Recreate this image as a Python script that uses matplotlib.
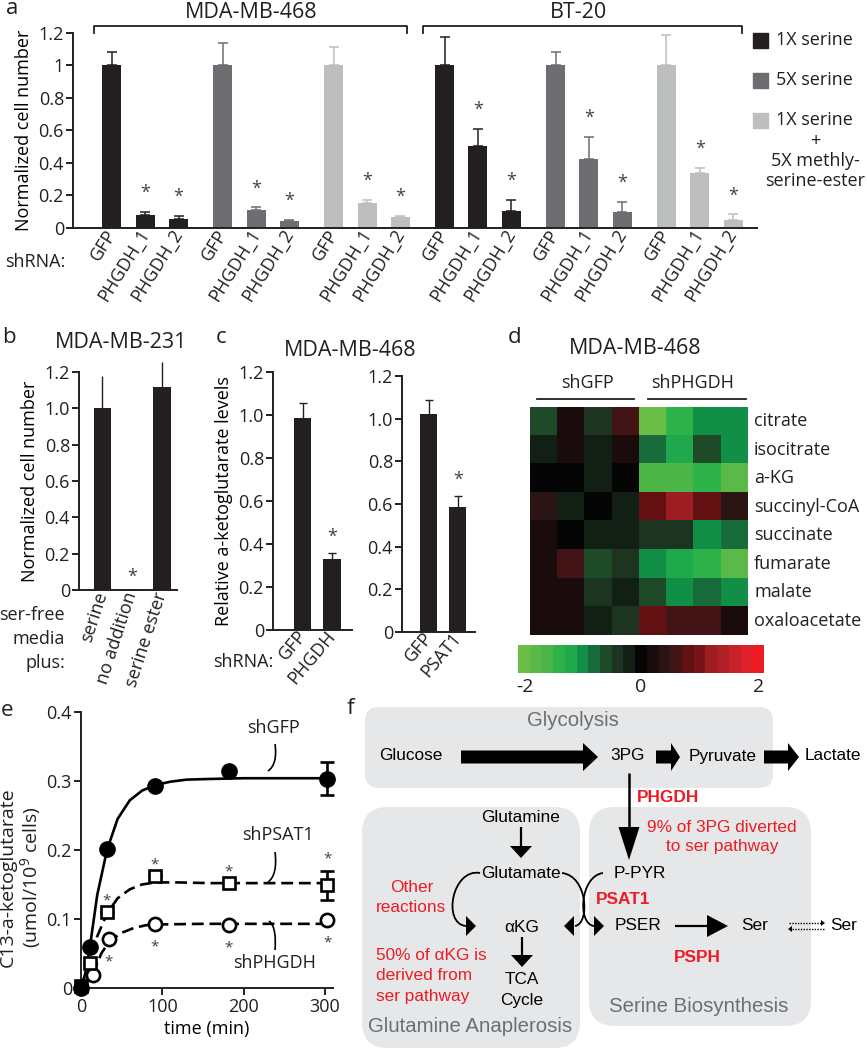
import numpy as np
import matplotlib
matplotlib.use("Agg")
import matplotlib.pyplot as plt
from matplotlib.patches import FancyBboxPatch, Polygon, PathPatch, Rectangle
from matplotlib.path import Path
from matplotlib.colors import ListedColormap, Normalize
from matplotlib.transforms import offset_copy

plt.rcParams['font.family'] = ['Open Sans', 'DejaVu Sans']
plt.rcParams['mathtext.fontset'] = 'custom'
plt.rcParams['mathtext.rm'] = 'Open Sans'
plt.rcParams['mathtext.it'] = 'Open Sans:italic'

# ---------------- data ----------------
# panel a
a_cell_lines = ['MDA-MB-468', 'BT-20']
a_conditions = ['1X serine', '5X serine', '1X serine\n+\n5X methly-\nserine-ester']
a_shrna = ['GFP', 'PHGDH_1', 'PHGDH_2']
a_mda_1x = [1.0, 0.080, 0.058]
a_mda_1x_err = [0.085, 0.017, 0.017]
a_mda_5x = [1.0, 0.112, 0.044]
a_mda_5x_err = [0.137, 0.015, 0.007]
a_mda_est = [1.0, 0.155, 0.066]
a_mda_est_err = [0.116, 0.017, 0.009]
a_bt_1x = [1.0, 0.506, 0.107]
a_bt_1x_err = [0.177, 0.104, 0.065]
a_bt_5x = [1.0, 0.427, 0.100]
a_bt_5x_err = [0.085, 0.135, 0.062]
a_bt_est = [1.0, 0.336, 0.050]
a_bt_est_err = [0.190, 0.035, 0.034]
a_sig = [False, True, True]

# panel b
b_labels = ['serine', 'no addition', 'serine ester']
b_vals = [1.0, -0.008, 1.115]
b_err = [0.178, 0.0, 0.141]
b_sig = [False, True, False]

# panel c
c1_labels = ['GFP', 'PHGDH']
c1_vals = [0.988, 0.332]
c1_err = [0.066, 0.027]
c2_labels = ['GFP', 'PSAT1']
c2_vals = [1.020, 0.586]
c2_err = [0.066, 0.050]
c_sig = [False, True]

# panel d
d_metabolites = ['citrate', 'isocitrate', 'a-KG', 'succinyl-CoA', 'succinate',
                 'fumarate', 'malate', 'oxaloacetate']
d_groups = ['shGFP', 'shPHGDH']
d_citrate = [-0.57, 0.12, -0.40, 0.60, -1.90, -1.35, -0.90, -0.90]
d_isocitrate = [-0.20, 0.20, -0.25, 0.25, -0.75, -1.15, -0.60, -0.90]
d_akg = [0.08, 0.08, -0.20, 0.00, -1.50, -1.50, -1.35, -1.75]
d_succoa = [0.35, -0.25, 0.05, -0.12, 0.75, 1.15, 0.70, 0.38]
d_succinate = [0.25, 0.05, -0.12, -0.12, -0.30, -0.42, -0.90, -0.76]
d_fumarate = [0.22, 0.50, -0.55, -0.40, -0.95, -1.15, -1.33, -1.70]
d_malate = [0.12, 0.12, -0.30, -0.10, -0.60, -0.90, -0.76, -1.00]
d_oaa = [0.12, 0.22, -0.12, -0.30, 0.75, 0.60, 0.50, 0.20]

# panel e
e_t_gfp = [0, 11, 32, 91, 182, 303]
e_gfp = [0.000, 0.060, 0.201, 0.293, 0.314, 0.303]
e_gfp_err = [0, 0, 0, 0, 0, 0.024]
e_t_psat = [0, 11, 32, 91, 182, 303]
e_psat = [0.003, 0.036, 0.110, 0.162, 0.152, 0.149]
e_psat_err = [0, 0, 0, 0, 0, 0.021]
e_psat_sig = [False, False, True, True, True, True]
e_t_phgdh = [0, 15, 34, 91, 182, 303]
e_phgdh = [0.000, 0.019, 0.071, 0.093, 0.092, 0.099]
e_phgdh_sig = [False, False, True, True, True, True]
# fitted curves
e_fit_t_gfp = [0, 5, 11, 20, 32, 45, 60, 75, 91, 110, 130, 160, 200, 250, 303]
e_fit_gfp = [0, 0.020, 0.060, 0.135, 0.200, 0.245, 0.272, 0.286, 0.294, 0.299, 0.302, 0.303, 0.304, 0.304, 0.304]
e_fit_t_psat = [0, 11, 20, 32, 45, 60, 75, 91, 120, 160, 303]
e_fit_psat = [0, 0.040, 0.075, 0.108, 0.130, 0.143, 0.150, 0.153, 0.153, 0.152, 0.152]
e_fit_t_phgdh = [0, 15, 25, 35, 50, 65, 80, 91, 150, 303]
e_fit_phgdh = [0, 0.022, 0.050, 0.068, 0.080, 0.087, 0.091, 0.092, 0.093, 0.093]

# ---------------- figure ----------------
W, H = 867, 1050
fig = plt.figure(figsize=(W / 100, H / 100), dpi=100)


def ax_px(x0, y0, x1, y1):
    return fig.add_axes([x0 / W, 1 - y1 / H, (x1 - x0) / W, (y1 - y0) / H])


ov = fig.add_axes([0, 0, 1, 1], zorder=10)
ov.set_xlim(0, W)
ov.set_ylim(H, 0)
ov.set_axis_off()

FS = 13
TFS = 15.5
BLACK = '#231f20'
bar_colors = ['#231f20', '#6d6e71', '#bcbec0']


def style(ax, xticks=False):
    for s in ['top', 'right']:
        ax.spines[s].set_visible(False)
    for s in ['left', 'bottom']:
        ax.spines[s].set_linewidth(1.4)
        ax.spines[s].set_color(BLACK)
    ax.tick_params(axis='y', direction='out', length=5, width=1.4, labelsize=FS, pad=1.5, colors=BLACK)
    ax.tick_params(axis='x', direction='out', length=5 if xticks else 0, width=1.4,
                   labelsize=FS, pad=2, colors=BLACK)


def star(ax, x, y, fs=13):
    tr = offset_copy(ax.transData, fig=fig, y=-0.62 * fs, units='points')
    ax.text(x, y, '*', transform=tr, ha='center', va='baseline', fontsize=fs,
            color='#414042', clip_on=False)


def panel_label(x, y, s):
    ov.text(x, y, s, fontsize=16, ha='left', va='baseline', color=BLACK)


# ---------------- panel a ----------------
ax = ax_px(73, 33, 757, 228)
style(ax)
series = [(a_mda_1x, a_mda_1x_err, 0), (a_mda_5x, a_mda_5x_err, 1), (a_mda_est, a_mda_est_err, 2),
          (a_bt_1x, a_bt_1x_err, 0), (a_bt_5x, a_bt_5x_err, 1), (a_bt_est, a_bt_est_err, 2)]
all_x, all_lab = [], []
for g, (vals, errs, ci) in enumerate(series):
    xs = g * 3.33 + np.arange(3)
    ax.bar(xs, vals, width=0.57, color=bar_colors[ci], zorder=2)
    ax.errorbar(xs, vals, yerr=[np.zeros(3), errs], fmt='none', ecolor=bar_colors[ci],
                elinewidth=1.1, capsize=3.5, capthick=1.1, clip_on=False, zorder=1)
    for x, v, e, s in zip(xs, vals, errs, a_sig):
        if s:
            star(ax, x, v + e + 0.155)
    all_x += list(xs)
    all_lab += a_shrna
ax.set_xlim(-1.17, 5 * 3.33 + 2 + 0.72)
ax.set_ylim(0, 1.2)
ax.set_yticks([0, 0.2, 0.4, 0.6, 0.8, 1.0, 1.2])
ax.set_yticklabels(['0', '0.2', '0.4', '0.6', '0.8', '1', '1.2'])
ax.set_xticks(all_x)
ax.set_xticklabels(all_lab, rotation=58, ha='right', va='center', rotation_mode='anchor')
ax.set_ylabel('Normalized cell number', fontsize=FS, labelpad=4)
ov.text(5, 262, 'shRNA:', fontsize=FS, ha='left', va='center', color=BLACK)
panel_label(6, 14, 'a')
# brackets and cell-line titles
ov.plot([94, 94, 407, 407], [33, 26, 26, 33], color=BLACK, lw=1.3)
ov.plot([423, 423, 742, 742], [33, 26, 26, 33], color=BLACK, lw=1.3)
ov.text(251, 13, a_cell_lines[0], fontsize=TFS, ha='center', va='center', color=BLACK)
ov.text(578, 13, a_cell_lines[1], fontsize=TFS, ha='center', va='center', color=BLACK)
# legend
for i, (lab, col) in enumerate(zip(a_conditions, bar_colors)):
    yc = 40 + 40 * i
    ov.add_patch(Rectangle((753, yc - 7.5), 15, 15, color=col))
    lines = lab.split('\n')
    ov.text(776, yc, lines[0], fontsize=FS, ha='left', va='center', color=BLACK)
    for k, extra in enumerate(lines[1:]):
        ov.text(815, yc + 21 + 20 * k, extra, fontsize=FS, ha='center', va='center', color=BLACK)

# ---------------- panel b ----------------
ax = ax_px(79, 372, 177, 590)
style(ax)
xb = np.arange(3)
ax.bar(xb, b_vals, width=0.57, color=BLACK, zorder=2, clip_on=False)
ax.errorbar(xb, b_vals, yerr=[np.zeros(3), b_err], fmt='none', ecolor=BLACK,
            elinewidth=1.0, capsize=0, clip_on=False)
for x, v, e, s in zip(xb, b_vals, b_err, b_sig):
    if s:
        star(ax, x, max(v, 0) + 0.106)
ax.set_xlim(-0.77, 2.5)
ax.set_ylim(0, 1.2)
ax.set_yticks([0, 0.2, 0.4, 0.6, 0.8, 1.0, 1.2])
ax.set_yticklabels(['0', '0.2', '0.4', '0.6', '0.8', '1.0', '1.2'])
ax.set_xticks(xb)
ax.set_xticklabels(b_labels, rotation=72, ha='right', va='center', rotation_mode='anchor')
ax.set_ylabel('Normalized cell number', fontsize=FS, labelpad=4)
ov.text(121, 343, 'MDA-MB-231', fontsize=TFS, ha='center', va='center', color=BLACK)
for k, s in enumerate(['ser-free', 'media', 'plus:']):
    ov.text(65, 615 + 24 * k, s, fontsize=FS, ha='right', va='center', color=BLACK)
panel_label(2, 343, 'b')

# ---------------- panel c ----------------
for (x0, y0, x1, y1), labs, vals, errs, xl in [
        ((273, 372, 352, 630), c1_labels, c1_vals, c1_err, (-1.03, 1.69)),
        ((402, 376, 475, 632), c2_labels, c2_vals, c2_err, (-0.93, 1.59))]:
    ax = ax_px(x0, y0, x1, y1)
    style(ax)
    xc = np.arange(2)
    ax.bar(xc, vals, width=0.59, color=BLACK, zorder=2)
    ax.errorbar(xc, vals, yerr=errs, fmt='none', ecolor=BLACK, elinewidth=1.0,
                capsize=3, capthick=1.0, zorder=3)
    for x, v, e, s in zip(xc, vals, errs, c_sig):
        if s:
            star(ax, x, v + e + 0.105)
    ax.set_xlim(*xl)
    ax.set_ylim(0, 1.2)
    ax.set_yticks([0, 0.2, 0.4, 0.6, 0.8, 1.0, 1.2])
    ax.set_yticklabels(['0', '0.2', '0.4', '0.6', '0.8', '1.0', '1.2'])
    ax.set_xticks(xc)
    ax.set_xticklabels(labs, rotation=50, ha='right', va='center', rotation_mode='anchor')
    if x0 == 273:
        ax.set_ylabel('Relative a-ketoglutarate levels', fontsize=FS, labelpad=4)
ov.text(350, 350, 'MDA-MB-468', fontsize=TFS, ha='center', va='center', color=BLACK)
ov.text(213, 662, 'shRNA:', fontsize=FS, ha='left', va='center', color=BLACK)
panel_label(216, 343, 'c')

# ---------------- panel d ----------------
heat_colors = ['#6abd45', '#5bb947', '#4cb748', '#2db34a', '#1fa84c', '#128f47', '#186b3a',
               '#1f4a28', '#1c3420', '#121f14', '#050505', '#1a0c0d', '#2a1414', '#431415',
               '#631013', '#781418', '#9c1e23', '#ae2026', '#c8222a', '#df222a', '#ed1c24']
cmap = ListedColormap(heat_colors)
norm = Normalize(-2, 2)
heat = np.array([d_citrate, d_isocitrate, d_akg, d_succoa, d_succinate, d_fumarate, d_malate, d_oaa])
axh = ax_px(530, 407, 748, 635)
axh.imshow(heat, cmap=cmap, norm=norm, aspect='auto', interpolation='nearest')
axh.set_axis_off()
row_h = (635 - 407) / len(d_metabolites)
for i, m in enumerate(d_metabolites):
    ov.text(754, 407 + (i + 0.5) * row_h, m, fontsize=FS, ha='left', va='center', color=BLACK)
ov.text(635, 348, 'MDA-MB-468', fontsize=TFS, ha='center', va='center', color=BLACK)
ov.text(587, 383, d_groups[0], fontsize=FS, ha='center', va='center', color=BLACK)
ov.text(693, 383, d_groups[1], fontsize=FS, ha='center', va='center', color=BLACK)
ov.plot([537, 634], [399, 399], color=BLACK, lw=1.3)
ov.plot([648, 746], [399, 399], color=BLACK, lw=1.3)
cax = ax_px(518, 645, 763, 673)
cax.imshow(np.arange(len(heat_colors))[None, :], cmap=cmap, aspect='auto', interpolation='nearest')
cax.set_axis_off()
for xx, s in [(525, '-2'), (641, '0'), (759, '2')]:
    ov.text(xx, 687, s, fontsize=14, ha='center', va='center', color=BLACK)
panel_label(508, 343, 'd')

# ---------------- panel e ----------------
ax = ax_px(81, 712, 333, 988)
style(ax, xticks=True)
LW = 1.9
ax.plot(e_fit_t_gfp, e_fit_gfp, color='k', lw=LW, solid_capstyle='round', zorder=2)
ax.plot(e_fit_t_psat, e_fit_psat, color='k', lw=LW, ls=(0, (4.5, 2.2)), zorder=2)
ax.plot(e_fit_t_phgdh, e_fit_phgdh, color='k', lw=LW, ls=(0, (4.5, 2.2)), zorder=2)
ax.errorbar(e_t_gfp, e_gfp, yerr=e_gfp_err, fmt='o', color='k', ms=11, elinewidth=LW,
            capsize=5, capthick=LW, clip_on=False, zorder=4)
ax.errorbar(e_t_psat, e_psat, yerr=e_psat_err, fmt='s', color='k', mfc='white', ms=9,
            mew=1.9, elinewidth=LW, capsize=5, capthick=LW, clip_on=False, zorder=3)
ax.plot(e_t_phgdh, e_phgdh, 'o', color='k', mfc='white', ms=9.5, mew=1.9, clip_on=False, zorder=3)
for t, v, e, s in zip(e_t_psat, e_psat, e_psat_err, e_psat_sig):
    if s:
        star(ax, t, v + e + 0.025, fs=11)
for t, v, s in zip(e_t_phgdh, e_phgdh, e_phgdh_sig):
    if s:
        star(ax, t, v - 0.025, fs=11)
ax.set_xlim(0, 310)
ax.set_ylim(0, 0.4)
ax.set_xticks([0, 100, 200, 300])
ax.set_yticks([0, 0.1, 0.2, 0.3, 0.4])
ax.set_yticklabels(['0', '0.1', '0.2', '0.3', '0.4'])
ax.set_xlabel('time (min)', fontsize=FS, labelpad=3)
ov.text(21, 877, 'C13-a-ketoglutarate\n(umol/10$^{9}$ cells)', fontsize=14, rotation=90,
        ha='center', va='center', multialignment='center', linespacing=1.05, color=BLACK)
ov.text(273, 728, 'shGFP', fontsize=FS, ha='center', va='center', color=BLACK)
ov.text(278, 835, 'shPSAT1', fontsize=FS, ha='center', va='center', color=BLACK)
ov.text(275, 963, 'shPHGDH', fontsize=FS, ha='center', va='center', color=BLACK)


def curve(pts, lw=1.2):
    codes = [Path.MOVETO] + [Path.CURVE4] * (len(pts) - 1)
    ov.add_patch(PathPatch(Path(pts, codes), fc='none', ec='k', lw=lw))


curve([(275, 744), (277, 758), (274, 767), (268, 771)])
curve([(275, 852), (277, 868), (274, 878), (268, 882)])
curve([(269, 921), (275, 925), (276, 938), (275, 950)])
panel_label(1, 716, 'e')

# ---------------- panel f ----------------
FF = ['Liberation Sans', 'DejaVu Sans']
RED = '#ed1c24'
GRAY_T = '#6d6e71'
BOX = '#e6e7e8'
FFS = 12.4
for (x0, y0, x1, y1, r) in [(365, 707, 773, 788, 14), (362, 807, 580, 1048, 26), (589, 807, 811, 1026, 26)]:
    ov.add_patch(FancyBboxPatch((x0, y0), x1 - x0, y1 - y0,
                                boxstyle=f'round,pad=0,rounding_size={r}', fc=BOX, ec='none', zorder=0))


def ftext(x, y, s, color='k', size=FFS, weight='normal', ha='center'):
    ov.text(x, y, s, fontsize=size, color=color, fontweight=weight, ha=ha, va='center', family=FF)


def fat_arrow(x0, x1, y, bh=13, hh=28, hl=15):
    pts = [(x0, y - bh / 2), (x1 - hl, y - bh / 2), (x1 - hl, y - hh / 2), (x1, y),
           (x1 - hl, y + hh / 2), (x1 - hl, y + bh / 2), (x0, y + bh / 2)]
    ov.add_patch(Polygon(pts, closed=True, fc='k', ec='none'))


def line_arrow(p0, p1, hl, hw, lw=1.6):
    p0 = np.array(p0, float)
    p1 = np.array(p1, float)
    d = (p1 - p0) / np.linalg.norm(p1 - p0)
    n = np.array([-d[1], d[0]])
    base = p1 - d * hl
    ov.plot([p0[0], base[0]], [p0[1], base[1]], color='k', lw=lw, solid_capstyle='butt')
    ov.add_patch(Polygon([base + n * hw, p1, base - n * hw], closed=True, fc='k', ec='none'))


def tri_head(tip, direction, hl=10, hw=10):
    tip = np.array(tip, float)
    d = np.array(direction, float)
    d /= np.linalg.norm(d)
    n = np.array([-d[1], d[0]])
    base = tip - d * hl
    ov.add_patch(Polygon([base + n * hw, tip, base - n * hw], closed=True, fc='k', ec='none'))


ftext(573, 721, 'Glycolysis', color=GRAY_T, size=14.7)
ftext(470, 1027, 'Glutamine Anaplerosis', color=GRAY_T, size=14.7)
ftext(699, 1006, 'Serine Biosynthesis', color=GRAY_T, size=14.7)
ftext(411, 756, 'Glucose')
ftext(627, 756, '3PG')
ftext(723, 756, 'Pyruvate')
ftext(833, 756, 'Lactate')
fat_arrow(461, 598, 757)
fat_arrow(656, 680, 757, hl=9)
fat_arrow(764, 799, 757, hl=11)
line_arrow((629, 773), (629, 860), hl=33, hw=10.5, lw=1.8)
ftext(637, 797, 'PHGDH', color=RED, weight='bold', ha='left')
ftext(722, 828, '9% of 3PG diverted', color=RED)
ftext(722, 847, 'to ser pathway', color=RED)
ftext(521, 818, 'Glutamine')
line_arrow((521, 827), (521, 858), hl=12, hw=11, lw=1.6)
ftext(521, 873, 'Glutamate')
ftext(522, 927, 'αKG')
line_arrow((522, 937), (522, 967), hl=12, hw=11, lw=1.6)
ftext(522, 980, 'TCA')
ftext(522, 1001, 'Cycle')
ftext(640, 874, 'P-PYR')
ftext(596, 900, 'PSAT1', color=RED, weight='bold', ha='left')
ftext(638, 926, 'PSER')
line_arrow((675, 926), (728, 926), hl=21, hw=11, lw=1.6)
ftext(755, 926, 'Ser')
ftext(844, 926, 'Ser')
ftext(697, 958, 'PSPH', color=RED, weight='bold')
ov.plot([789, 821], [923, 923], color='k', lw=1.0, ls=(0, (1, 1)))
tri_head((825, 923), (1, 0), hl=4, hw=3)
ov.plot([792, 825], [929, 929], color='k', lw=1.0, ls=(0, (1, 1)))
tri_head((788, 929), (-1, 0), hl=4, hw=3)
ftext(412, 887, 'Other', color=RED)
ftext(411, 907, 'reactions', color=RED)
for k, s in enumerate(['50% of αKG is', 'derived from', 'ser pathway']):
    ftext(376, 956 + 20 * k, s, color=RED, ha='left')
# curved arrows
curve([(480, 873), (452, 868), (442, 924), (466, 926)], lw=1.3)
tri_head((476, 926), (1, 0), hl=10, hw=10)
curve([(562, 873), (588, 876), (590, 924), (575, 926)], lw=1.3)
tri_head((564, 926), (-1, 0), hl=10, hw=10)
curve([(603, 873), (580, 876), (577, 924), (594, 926)], lw=1.3)
tri_head((604, 926), (1, 0), hl=10, hw=10)
panel_label(347, 714, 'f')

fig.savefig('out.png', dpi=100)
